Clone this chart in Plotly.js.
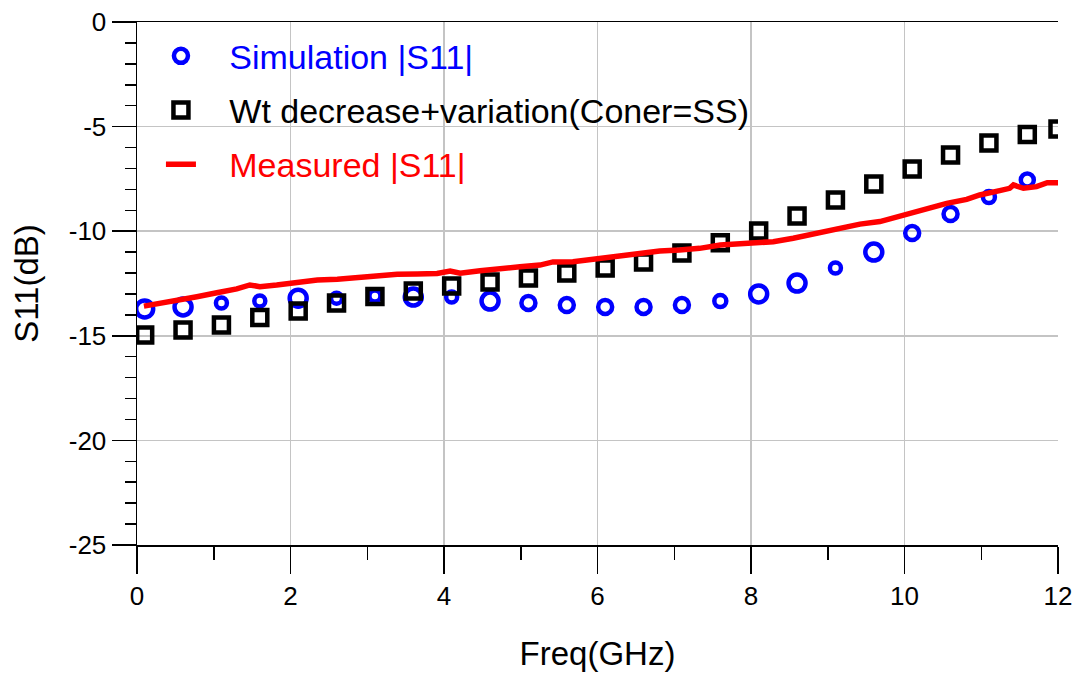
<!DOCTYPE html>
<html>
<head>
<meta charset="utf-8">
<script src="https://cdn.plot.ly/plotly-3.0.1.min.js"></script>
<style>html,body{margin:0;padding:0;background:#fff;}#chart{width:1082px;height:675px;}</style>
</head>
<body>
<div id="chart"></div>
<script>
// Simulation |S11| (blue circles)
var simFreq = [0.1,0.6,1.1,1.6,2.1,2.6,3.1,3.6,4.1,4.6,5.1,5.6,6.1,6.6,7.1,7.6,8.1,8.6,9.1,9.6,10.1,10.6,11.1,11.6];
var simS11 = [-13.72,-13.62,-13.43,-13.34,-13.2,-13.2,-13.1,-13.15,-13.15,-13.34,-13.43,-13.53,-13.62,-13.62,-13.53,-13.34,-13.0,-12.48,-11.76,-11.0,-10.09,-9.18,-8.37,-7.55];
// Wt decrease + variation (black squares)
var wtFreq = [0.1,0.6,1.1,1.6,2.1,2.6,3.1,3.6,4.1,4.6,5.1,5.6,6.1,6.6,7.1,7.6,8.1,8.6,9.1,9.6,10.1,10.6,11.1,11.6,12.0];
var wtS11 = [-14.96,-14.72,-14.48,-14.12,-13.81,-13.43,-13.12,-12.86,-12.62,-12.43,-12.24,-12.0,-11.76,-11.47,-11.04,-10.55,-9.99,-9.27,-8.51,-7.74,-7.03,-6.36,-5.78,-5.38,-5.11];
// Measured |S11| (red line)
var measFreq = [0.09,0.26,0.52,0.78,1.04,1.30,1.47,1.60,1.82,2.08,2.35,2.61,2.87,3.13,3.39,3.65,3.91,4.08,4.21,4.47,4.73,4.99,5.25,5.42,5.68,6.03,6.38,6.55,6.72,6.81,7.07,7.33,7.60,7.86,8.03,8.29,8.55,8.81,9.07,9.29,9.42,9.68,9.94,10.11,10.29,10.55,10.81,10.98,11.24,11.37,11.42,11.55,11.72,11.86,12.00];
var measS11 = [-13.58,-13.48,-13.29,-13.13,-12.94,-12.76,-12.57,-12.65,-12.57,-12.45,-12.33,-12.30,-12.20,-12.14,-12.06,-12.05,-12.02,-11.90,-12.01,-11.89,-11.77,-11.70,-11.62,-11.47,-11.46,-11.30,-11.19,-11.06,-11.01,-10.95,-10.90,-10.82,-10.66,-10.61,-10.61,-10.50,-10.34,-10.15,-9.94,-9.81,-9.66,-9.54,-9.27,-9.11,-8.91,-8.67,-8.48,-8.27,-8.06,-7.95,-7.79,-7.95,-7.87,-7.68,-7.68];
// tick labels
var yTickVals = [-25,-20,-15,-10,-5,0];
var yTickText = ['-25','-20','-15','-10','-5','0'];
var xTickVals = [0,2,4,6,8,10,12];
var xTickText = ['0','2','4','6','8','10','12'];
// style: apparent circle sizes in the picture
var simSizes = [17,17,11,11,17,11,11,17,11,17,14,14,14,14,14,12,17,17,11,17,14,14,12,13];

var font = 'Arial, "Liberation Sans", sans-serif';
var sp = '\u00a0\u00a0\u00a0';

var traces = [
  {x: simFreq, y: simS11, type: 'scatter', mode: 'markers', legendgroup: 'a',
   name: sp + '<span style="color:#0000ff">Simulation |S11|</span>',
   marker: {symbol: 'circle-open', size: simSizes, opacity: 1, color: '#0000ff', line: {width: 4.5, color: '#0000ff'}}},
  {x: wtFreq, y: wtS11, type: 'scatter', mode: 'markers', legendgroup: 'b',
   name: sp + '<span style="color:#000000">Wt decrease+variation(Coner=SS)</span>',
   marker: {symbol: 'square-open', size: 15, opacity: 1, color: '#000000', line: {width: 4.5, color: '#000000'}}},
  {x: measFreq, y: measS11, type: 'scatter', mode: 'lines', legendgroup: 'c',
   name: sp + '<span style="color:#ff0000">Measured |S11|</span>',
   line: {color: '#ff0000', width: 5.5}}
];

var layout = {
  width: 1082, height: 675,
  margin: {l: 137, r: 24, t: 22, b: 130},
  paper_bgcolor: '#ffffff', plot_bgcolor: '#ffffff',
  font: {family: font, size: 24, color: '#000000'},
  showlegend: true,
  legend: {x: 0.026, y: 0.99, xanchor: 'left', yanchor: 'top', bgcolor: 'rgba(0,0,0,0)',
           font: {family: font, size: 34, color: '#000000'}, traceorder: 'grouped', tracegroupgap: 7,
           itemsizing: 'trace'},
  xaxis: {
    range: [0, 12], tickmode: 'array', tickvals: xTickVals, ticktext: xTickText,
    showgrid: true, gridcolor: '#c4c4c4', gridwidth: 1.5,
    zeroline: false, showline: true, linecolor: '#000000', linewidth: 1.5, mirror: true,
    ticks: 'outside', ticklen: 27, tickwidth: 1.5, tickcolor: '#000000',
    minor: {dtick: 1, tick0: 0, ticks: 'outside', ticklen: 13, tickwidth: 1.5, tickcolor: '#000000', showgrid: false},
    tickfont: {family: font, size: 26},
    title: {text: 'Freq(GHz)', font: {family: font, size: 33}, standoff: 32}
  },
  yaxis: {
    range: [-25, 0], tickmode: 'array', tickvals: yTickVals, ticktext: yTickText,
    showgrid: true, gridcolor: '#c4c4c4', gridwidth: 1.5,
    zeroline: false, showline: true, linecolor: '#000000', linewidth: 1.5,
    ticks: 'outside', ticklen: 24, tickwidth: 1.5, tickcolor: '#000000',
    minor: {dtick: 1, tick0: 0, ticks: 'outside', ticklen: 11, tickwidth: 1.5, tickcolor: '#000000', showgrid: false},
    tickfont: {family: font, size: 26},
    title: {text: 'S11(dB)', font: {family: font, size: 33}, standoff: 20}
  }
};

Plotly.newPlot('chart', traces, layout, {displayModeBar: false, staticPlot: true});
</script>
</body>
</html>
